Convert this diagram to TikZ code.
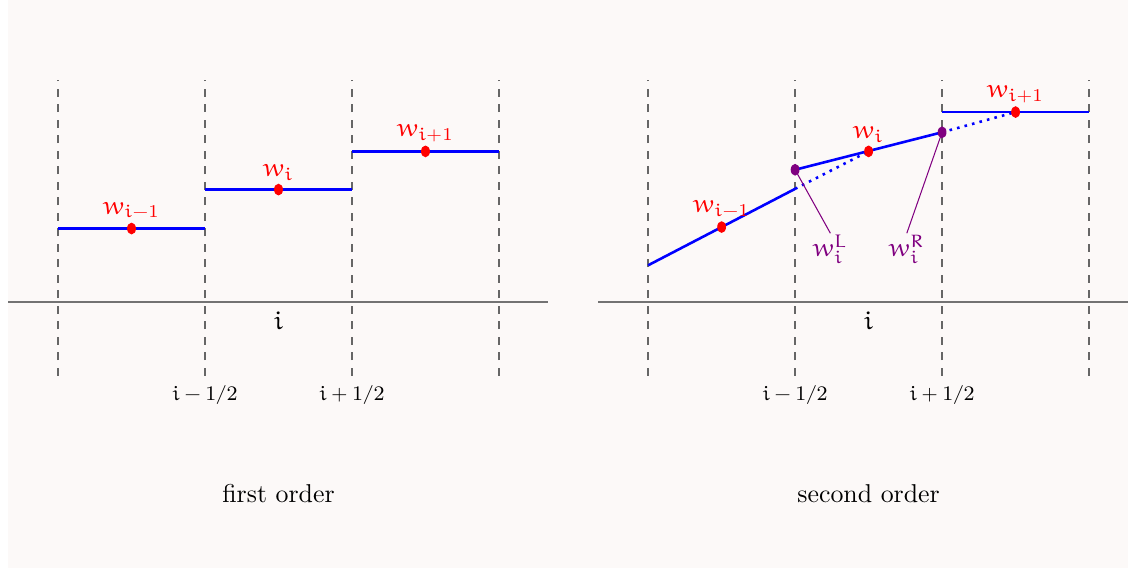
\documentclass[tikz,border=0pt]{standalone}
\usepackage{euler}
\DeclareMathSymbol{0}{\mathalpha}{operators}{`0}
\DeclareMathSymbol{1}{\mathalpha}{operators}{`1}
\DeclareMathSymbol{2}{\mathalpha}{operators}{`2}
\DeclareMathSymbol{3}{\mathalpha}{operators}{`3}
\usetikzlibrary{positioning}
\definecolor{bgpink}{RGB}{252,249,248}
\definecolor{recpurple}{RGB}{128,0,128}

\begin{document}
\begin{tikzpicture}[
    cell/.style={blue, line width=1pt},
    iface/.style={dashed, black!60, line width=0.6pt},
    axis/.style={black!55, line width=0.6pt},
    avg/.style={red},
    rec/.style={recpurple, inner sep=0.3pt},
]
    \useasboundingbox (-0.79,-3.62) rectangle (14.56,4.11);
    \fill[bgpink] (-0.68,-3.62) rectangle (14.56,4.11);

    % First order: piecewise constant
    \draw[axis] (-0.68,0) -- (6.67,0);
    \foreach \x/\n in {0/a,2/b,4/c,6/d} {
        \coordinate (lt\n) at (\x,3.02);
        \coordinate (lb\n) at (\x,-1);
        \draw[iface] (lb\n) -- (lt\n);
    }
    \coordinate (p1) at (0,1);    \coordinate (q1) at (2,1);
    \coordinate (p2) at (2,1.53); \coordinate (q2) at (4,1.53);
    \coordinate (p3) at (4,2.05); \coordinate (q3) at (6,2.05);
    \draw[cell] (p1) -- (q1);
    \draw[cell] (p2) -- (q2);
    \draw[cell] (p3) -- (q3);
    \coordinate (u1) at (1,1);
    \coordinate (u2) at (3,1.53);
    \coordinate (u3) at (5,2.05);
    \foreach \n in {1,2,3} \fill[red] (u\n) ellipse (0.06 and 0.08);
    \node[avg, above=0pt of u1] (lu1) {$w_{i-1}$};
    \node[avg, above=0pt of u2] (lu2) {$w_{i}$};
    \node[avg, above=0pt of u3] (lu3) {$w_{i+1}$};
    \node[below] (li) at (3,0) {$i$};
    \node[below=0pt of lbb, font=\footnotesize] (lhm) {$i-1/2$};
    \node[below=0pt of lbc, font=\footnotesize] (lhp) {$i+1/2$};
    \node (ltitle) at (3,-2.61) {first order};

    % Second order: piecewise linear
    \begin{scope}[xshift=8.03cm]
    \draw[axis] (-0.68,0) -- (6.53,0);
    \foreach \x/\n in {0/a,2/b,4/c,6/d} {
        \coordinate (rt\n) at (\x,3.02);
        \coordinate (rb\n) at (\x,-1);
        \draw[iface] (rb\n) -- (rt\n);
    }
    \coordinate (s1) at (0,0.50); \coordinate (e1) at (2,1.54);
    \coordinate (s2) at (2,1.80); \coordinate (e2) at (4,2.31);
    \coordinate (s3) at (4,2.585); \coordinate (e3) at (6,2.585);
    \coordinate (v1) at (1,1.02);
    \coordinate (v2) at (3,2.05);
    \coordinate (v3) at (5,2.585);
    \draw[cell] (s1) -- (e1);
    \draw[cell] (s2) -- (e2);
    \draw[cell] (s3) -- (e3);
    \draw[cell, dotted] (e1) -- (v2);
    \draw[cell, dotted] (e2) -- (v3);
    \foreach \n in {1,2,3} \fill[red] (v\n) ellipse (0.06 and 0.08);
    \node[avg, above=0pt of v1] (rv1) {$w_{i-1}$};
    \node[avg, above=0pt of v2] (rv2) {$w_{i}$};
    \node[avg, above=0pt of v3] (rv3) {$w_{i+1}$};
    % reconstructed interface values
    \fill[recpurple] (s2) ellipse (0.06 and 0.08);
    \fill[recpurple] (e2) ellipse (0.06 and 0.08);
    \node[rec] (wl) at (2.48,0.72) {$w_i^L$};
    \node[rec] (wr) at (3.52,0.72) {$w_i^R$};
    \draw[recpurple, thin] (s2) -- (wl.north);
    \draw[recpurple, thin] (e2) -- (wr.north);
    \node[below] (ri) at (3,0) {$i$};
    \node[below=0pt of rbb, font=\footnotesize] (rhm) {$i-1/2$};
    \node[below=0pt of rbc, font=\footnotesize] (rhp) {$i+1/2$};
    \node (rtitle) at (3,-2.61) {second order};
    \end{scope}
\end{tikzpicture}
\end{document}
